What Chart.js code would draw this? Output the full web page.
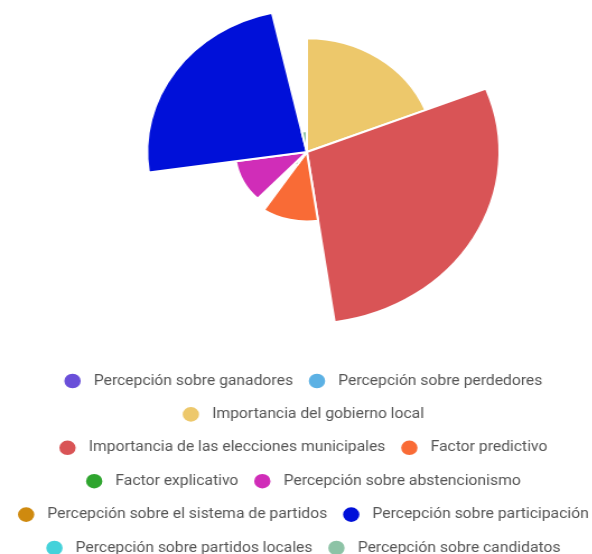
<!DOCTYPE html>
<html>
<head>
<meta charset="utf-8">
<script src="https://cdn.jsdelivr.net/npm/chart.js@4.4.1/dist/chart.umd.min.js"></script>
<style>
  html, body { margin: 0; padding: 0; background: #fff; overflow: hidden; width: 592px; height: 554px; }
  #stage { position: absolute; left: 0; top: 0; width: 528.6px; height: 554px; transform: scaleX(1.12); transform-origin: 0 0; }
  #c { position: absolute; left: -1.2px; top: -20px; }
</style>
</head>
<body>
<div id="stage"><canvas id="c" width="539" height="590"></canvas></div>
<script>
const categories = [
  'Percepción sobre ganadores',
  'Percepción sobre perdedores',
  'Importancia del gobierno local',
  'Importancia de las elecciones municipales',
  'Factor predictivo',
  'Factor explicativo',
  'Percepción sobre abstencionismo',
  'Percepción sobre el sistema de partidos',
  'Percepción sobre participación',
  'Percepción sobre partidos locales',
  'Percepción sobre candidatos'
];
const values = [0, 0, 19.0, 28.7, 11.6, 2.7, 10.7, 0, 23.8, 0, 3.5];
const colors = [
  '#6a4fd9', '#5cb1e4', '#edc86b', '#d95456', '#f96b36', '#2fa52f',
  '#d02db8', '#cf8a0f', '#0010d9', '#44d2da', '#8dc3a6'
];

const total = values.reduce((a, b) => a + b, 0);

new Chart(document.getElementById('c'), {
  type: 'polarArea',
  data: {
    labels: categories,
    datasets: [{
      data: values,
      backgroundColor: colors,
      borderColor: '#ffffff',
      borderWidth: 2,
      angle: (ctx) => Math.max(values[ctx.dataIndex] / total * 360, 1e-6)
    }]
  },
  options: {
    responsive: false,
    animation: false,
    devicePixelRatio: 1,
    layout: { padding: 0 },
    scales: {
      r: { display: false, min: 0, max: Math.max(...values) },
      pad: {
        type: 'linear', position: 'left', display: true,
        grid: { display: false }, border: { display: false }, ticks: { display: false },
        afterFit: (s) => { s.width = 12.6; }
      }
    },
    plugins: {
      tooltip: { enabled: false },
      legend: {
        position: 'bottom',
        title: { display: true, text: '', font: { size: 12 }, padding: { top: 21.2, bottom: 0 } },
        labels: {
          boxWidth: 24,
          boxHeight: 24,
          padding: 9.4,
          color: '#555',
          font: { family: 'Roboto', size: 14 },
          generateLabels: (chart) => categories.map((text, i) => ({
            text,
            fillStyle: colors[i],
            strokeStyle: '#ffffff',
            lineWidth: 9.4,
            borderRadius: 12,
            fontColor: '#555',
            hidden: !chart.getDataVisibility(i),
            index: i
          }))
        }
      }
    }
  }
});
</script>
</body>
</html>
